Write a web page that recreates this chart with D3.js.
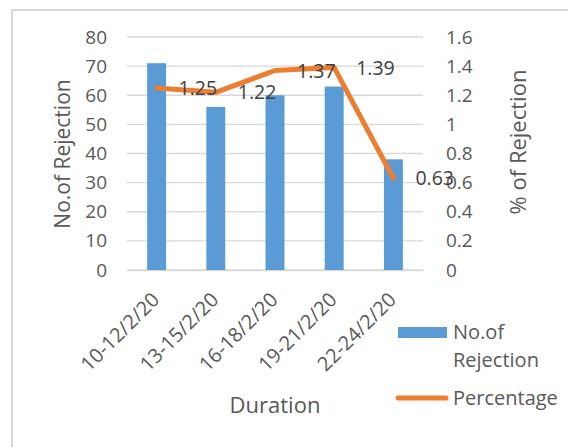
<!DOCTYPE html>
<html>
<head>
<meta charset="utf-8">
<script src="https://cdn.jsdelivr.net/npm/d3@7/dist/d3.min.js"></script>
<style>
  html, body { margin: 0; padding: 0; background: #fff; }
  svg { display: block; font-family: "Open Sans", sans-serif; }
</style>
</head>
<body>
<svg id="chart" width="568" height="447"></svg>
<script>
// Rejections per duration window and their share in percent
const categories = ["10-12/2/20", "13-15/2/20", "16-18/2/20", "19-21/2/20", "22-24/2/20"];
const rejections = [71, 56, 60, 63, 38];
const percentage = [1.25, 1.22, 1.37, 1.39, 0.63];
const leftTicks = [0, 10, 20, 30, 40, 50, 60, 70, 80];
const rightTicks = [0, 0.2, 0.4, 0.6, 0.8, 1, 1.2, 1.4, 1.6];

const svg = d3.select("#chart");
const textColor = "#595959";
const fontSize = 19;

const plot = { left: 127, right: 423, top: 37, bottom: 270 };

const x = d3.scaleBand()
  .domain(categories)
  .range([plot.left, plot.right])
  .paddingInner(0.68)
  .paddingOuter(0.34);
const yLeft = d3.scaleLinear().domain([0, 80]).range([plot.bottom, plot.top]);
const yRight = d3.scaleLinear().domain([0, 1.6]).range([plot.bottom, plot.top]);
const cx = d => x(d) + x.bandwidth() / 2;

// chart frame (left and top edges)
svg.append("line").attr("x1", 12).attr("x2", 12).attr("y1", 10).attr("y2", 447)
  .attr("stroke", "#d9d9d9").attr("stroke-width", 2);
svg.append("line").attr("x1", 11).attr("x2", 568).attr("y1", 10).attr("y2", 10)
  .attr("stroke", "#d9d9d9").attr("stroke-width", 2);

// horizontal gridlines
svg.append("g").selectAll("line").data(leftTicks).join("line")
  .attr("x1", plot.left).attr("x2", plot.right)
  .attr("y1", d => yLeft(d)).attr("y2", d => yLeft(d))
  .attr("stroke", "#d9d9d9").attr("stroke-width", 1.3);

// left axis
const gl = svg.append("g").attr("transform", `translate(${plot.left - 20},0)`)
  .call(d3.axisLeft(yLeft).tickValues(leftTicks).tickSize(0).tickPadding(0).tickFormat(d3.format("d")));
gl.select(".domain").remove();
gl.selectAll("text").attr("fill", textColor).attr("font-size", fontSize)
  .attr("font-family", "Open Sans, sans-serif");

// right axis
const gr = svg.append("g").attr("transform", `translate(${plot.right + 23},0)`)
  .call(d3.axisRight(yRight).tickValues(rightTicks).tickSize(0).tickPadding(0).tickFormat(d => d3.format("~g")(d)));
gr.select(".domain").remove();
gr.selectAll("text").attr("fill", textColor).attr("font-size", fontSize)
  .attr("font-family", "Open Sans, sans-serif");

// bottom axis labels (rotated)
const gb = svg.append("g").attr("transform", `translate(0,${plot.bottom})`)
  .call(d3.axisBottom(x).tickSize(0).tickPadding(0));
gb.select(".domain").attr("stroke", "#d9d9d9").attr("stroke-width", 1.3);
gb.selectAll(".tick text")
  .attr("fill", textColor).attr("font-size", 20)
  .attr("font-family", "Open Sans, sans-serif")
  .attr("text-anchor", "end")
  .attr("dy", 0)
  .attr("transform", "translate(4,31) rotate(-45)");

// bars
svg.append("g").selectAll("rect").data(categories).join("rect")
  .attr("x", d => x(d))
  .attr("width", x.bandwidth())
  .attr("y", (d, i) => yLeft(rejections[i]))
  .attr("height", (d, i) => plot.bottom - yLeft(rejections[i]))
  .attr("fill", "#5b9bd5");

// percentage line
const line = d3.line()
  .x((d, i) => cx(categories[i]))
  .y(d => yRight(d));
svg.append("path").datum(percentage)
  .attr("d", line)
  .attr("fill", "none")
  .attr("stroke", "#ed7d31")
  .attr("stroke-width", 5)
  .attr("stroke-linejoin", "round")
  .attr("stroke-linecap", "round");

// value labels on the line
svg.append("g").selectAll("text").data(percentage).join("text")
  .attr("x", (d, i) => cx(categories[i]) + 22)
  .attr("y", d => yRight(d))
  .attr("dy", "0.36em")
  .attr("fill", "#404040")
  .attr("font-size", 19.5)
  .text(d => d3.format(".2f")(d));

// axis titles
svg.append("text")
  .attr("transform", "translate(62,154) rotate(-90)")
  .attr("text-anchor", "middle").attr("dy", "0.36em")
  .attr("fill", textColor).attr("font-size", 21)
  .text("No.of Rejection");
svg.append("text")
  .attr("transform", "translate(518,142) rotate(-90)")
  .attr("text-anchor", "middle").attr("dy", "0.36em")
  .attr("fill", textColor).attr("font-size", 22)
  .text("% of Rejection");
svg.append("text")
  .attr("x", 275).attr("y", 405)
  .attr("text-anchor", "middle").attr("dy", "0.36em")
  .attr("fill", textColor).attr("font-size", 22)
  .text("Duration");

// legend
const legend = svg.append("g");
legend.append("rect")
  .attr("x", 398).attr("y", 327).attr("width", 49).attr("height", 11)
  .attr("fill", "#5b9bd5");
legend.append("text")
  .attr("x", 453).attr("y", 332).attr("dy", "0.36em")
  .attr("fill", textColor).attr("font-size", 20)
  .text("No.of");
legend.append("text")
  .attr("x", 453).attr("y", 360).attr("dy", "0.36em")
  .attr("fill", textColor).attr("font-size", 20)
  .text("Rejection");
legend.append("line")
  .attr("x1", 398).attr("x2", 446).attr("y1", 398).attr("y2", 398)
  .attr("stroke", "#ed7d31").attr("stroke-width", 5)
  .attr("stroke-linecap", "round");
legend.append("text")
  .attr("x", 453).attr("y", 398).attr("dy", "0.36em")
  .attr("fill", textColor).attr("font-size", 20)
  .text("Percentage");
</script>
</body>
</html>
